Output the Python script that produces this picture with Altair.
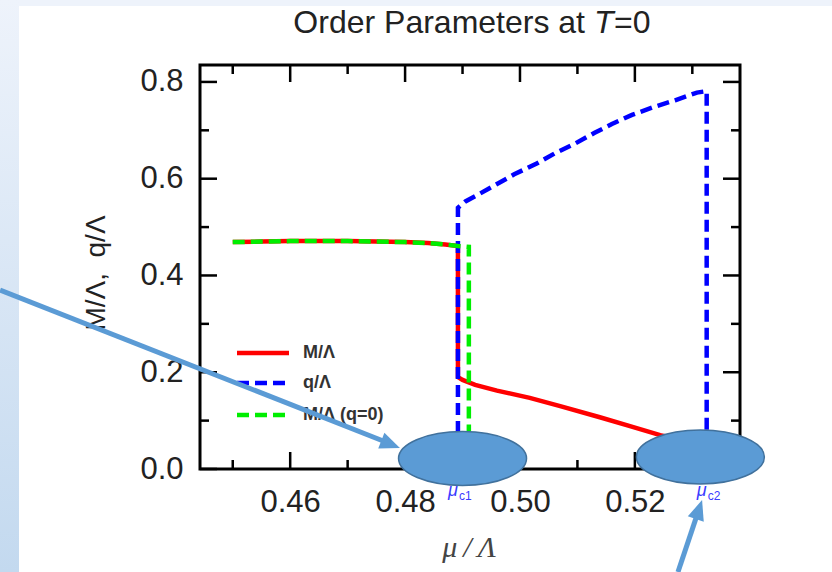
import altair as alt
import pandas as pd

# ---------------- data ----------------
# M/Lambda (solid red)
m_x = [0.450, 0.455, 0.460, 0.465, 0.470, 0.475, 0.480, 0.484, 0.487, 0.4892,
       0.4892, 0.4900, 0.4922, 0.4960, 0.5017, 0.5070, 0.5139, 0.5190, 0.5244, 0.5290, 0.5325]
m_y = [0.469, 0.470, 0.471, 0.471, 0.471, 0.470, 0.469, 0.467, 0.464, 0.461,
       0.190, 0.184, 0.174, 0.162, 0.147, 0.130, 0.107, 0.089, 0.070, 0.058, 0.050]

# q/Lambda (dashed blue)
q_x = [0.4892, 0.4892, 0.4905, 0.4930, 0.4960, 0.4990, 0.5030, 0.5060, 0.5095,
       0.5130, 0.5160, 0.5195, 0.5235, 0.5270, 0.5308, 0.5325, 0.5325]
q_y = [0.0, 0.540, 0.553, 0.569, 0.589, 0.609, 0.632, 0.652, 0.672,
       0.695, 0.713, 0.732, 0.749, 0.762, 0.778, 0.781, 0.0]

# M/Lambda with q=0 (dashed green)
g_x = [0.450, 0.455, 0.460, 0.465, 0.470, 0.475, 0.480, 0.484, 0.487, 0.4892, 0.4911, 0.4911]
g_y = [0.469, 0.470, 0.471, 0.471, 0.471, 0.470, 0.469, 0.467, 0.464, 0.461, 0.459, 0.0]

x_labels = [0.46, 0.48, 0.50, 0.52]
x_minor = [0.45, 0.47, 0.49, 0.51, 0.53]
y_labels = [0.0, 0.2, 0.4, 0.6, 0.8]
y_minor = [0.1, 0.3, 0.5, 0.7]

legend_labels = ["M/Λ", "q/Λ", "M/Λ (q=0)"]
legend_colors = ["#ff0000", "#0000ff", "#00ee00"]

mu_c = [0.4892, 0.5325]
mu_sub = ["c1", "c2"]

# annotation overlay (slide callouts), in data coordinates
ell_x = [0.4900, 0.5314]
ell_y = [0.0217, 0.0248]
arrow_x = [0.4095, 0.5275]
arrow_y = [0.370, -0.213]
arrow_x2 = [0.4762, 0.5307]
arrow_y2 = [0.0579, -0.0994]
tip_x = [0.4791, 0.5317]
tip_y = [0.0434, -0.0641]
tip_angle = [21.6, 288.4]

# ---------------- layout ----------------
W, H = 540, 404
X_DOM = [0.4443, 0.5383]
Y_DOM = [0.0, 0.835]
FONT = "Liberation Sans"

X = alt.X("x:Q", scale=alt.Scale(domain=X_DOM, nice=False, zero=False),
          axis=alt.Axis(values=x_labels, format=".2f", title=None, ticks=False, domain=False,
                        grid=False, labelFontSize=31, labelPadding=18, labelColor="#222",
                        labelFont=FONT))
Y = alt.Y("y:Q", scale=alt.Scale(domain=Y_DOM, nice=False, zero=False),
          axis=alt.Axis(values=y_labels, format=".1f", title=None, ticks=False, domain=False,
                        grid=False, labelFontSize=31, labelPadding=17, labelColor="#222",
                        labelFont=FONT))


def series(xs, ys):
    return pd.DataFrame({"x": xs, "y": ys, "i": list(range(len(xs)))})


def line(xs, ys, color, dash=None):
    kw = dict(color=color, strokeWidth=4.5, clip=False)
    if dash:
        kw["strokeDash"] = dash
    return alt.Chart(series(xs, ys)).mark_line(**kw).encode(x=X, y=Y, order="i:Q")


layers = []

# slide background strips
grad = alt.Gradient(gradient="linear", x1=0, x2=0, y1=0, y2=1,
                    stops=[alt.GradientStop(color="#eef3fb", offset=0),
                           alt.GradientStop(color="#c3d9ef", offset=1)])
one = pd.DataFrame({"a": [0]})
layers.append(alt.Chart(one).mark_rect(fill=grad, strokeWidth=0).encode(
    x=alt.value(-200), x2=alt.value(-181), y=alt.value(-65), y2=alt.value(H + 103)))
layers.append(alt.Chart(one).mark_rect(color="#eef3fb", strokeWidth=0).encode(
    x=alt.value(-181), x2=alt.value(W + 92), y=alt.value(-65), y2=alt.value(-59)))

# frame
layers.append(alt.Chart(one).mark_rect(fill=None, stroke="black", strokeWidth=3).encode(
    x=alt.value(0), x2=alt.value(W), y=alt.value(0), y2=alt.value(H)))


# inward ticks on all four sides
def xticks(vals, L):
    d = pd.DataFrame({"x": vals})
    return [alt.Chart(d).mark_rule(color="black", strokeWidth=2.5).encode(
                x=X, y=alt.value(H), y2=alt.value(H - L)),
            alt.Chart(d).mark_rule(color="black", strokeWidth=2.5).encode(
                x=X, y=alt.value(0), y2=alt.value(L))]


def yticks(vals, L):
    d = pd.DataFrame({"y": vals})
    return [alt.Chart(d).mark_rule(color="black", strokeWidth=2.5).encode(
                y=Y, x=alt.value(0), x2=alt.value(L)),
            alt.Chart(d).mark_rule(color="black", strokeWidth=2.5).encode(
                y=Y, x=alt.value(W), x2=alt.value(W - L))]


layers += xticks(x_labels, 17) + xticks(x_minor, 9) + yticks(y_labels, 17) + yticks(y_minor, 9)

# data lines
layers.append(line(m_x, m_y, legend_colors[0]))
layers.append(line(q_x, q_y, legend_colors[1], [12, 6]))
layers.append(line(g_x, g_y, legend_colors[2], [12, 6]))

# legend (manual, inside plot)
leg_y = [288, 318, 350]
leg_dash = [None, [12, 6], [12, 6]]
for lab, col, ly, dsh in zip(legend_labels, legend_colors, leg_y, leg_dash):
    kw = dict(color=col, strokeWidth=4.5)
    if dsh:
        kw["strokeDash"] = dsh
    layers.append(alt.Chart(one).mark_rule(**kw).encode(
        x=alt.value(37), x2=alt.value(89), y=alt.value(ly)))
    layers.append(alt.Chart(pd.DataFrame({"t": [lab]})).mark_text(
        align="left", baseline="middle", fontSize=18, fontWeight="bold", color="#333",
        font=FONT).encode(x=alt.value(103), y=alt.value(ly), text="t:N"))

# mu_c labels
mu_df = pd.DataFrame({"x": mu_c, "s": mu_sub, "m": ["μ", "μ"]})
layers.append(alt.Chart(mu_df).mark_text(
    align="center", baseline="middle", fontSize=18, fontStyle="italic", color="#3a3aff",
    font=FONT, dx=-5, clip=False).encode(x=X, y=alt.value(426), text="m:N"))
layers.append(alt.Chart(mu_df).mark_text(
    align="left", baseline="middle", fontSize=12, color="#3a3aff", font=FONT, dx=1,
    clip=False).encode(x=X, y=alt.value(431), text="s:N"))

# titles
layers.append(alt.Chart(pd.DataFrame({"t": ["Order Parameters at"]})).mark_text(
    align="right", baseline="alphabetic", fontSize=32, color="#222", font=FONT).encode(
    x=alt.value(385), y=alt.value(-32), text="t:N"))
layers.append(alt.Chart(pd.DataFrame({"t": ["T"]})).mark_text(
    align="left", baseline="alphabetic", fontSize=32, fontStyle="italic", color="#222",
    font=FONT).encode(x=alt.value(394), y=alt.value(-32), text="t:N"))
layers.append(alt.Chart(pd.DataFrame({"t": ["=0"]})).mark_text(
    align="left", baseline="alphabetic", fontSize=32, color="#222", font=FONT).encode(
    x=alt.value(414), y=alt.value(-32), text="t:N"))
layers.append(alt.Chart(pd.DataFrame({"t": ["M/Λ,\u00a0 q/Λ"]})).mark_text(
    align="center", baseline="middle", fontSize=28, angle=270, color="#222", font=FONT).encode(
    x=alt.value(-103), y=alt.value(208), text="t:N"))
layers.append(alt.Chart(pd.DataFrame({"t": ["μ\u2009/\u2009Λ"]})).mark_text(
    align="center", baseline="middle", fontSize=30, fontStyle="italic", color="#444",
    font="Liberation Serif").encode(x=alt.value(269), y=alt.value(483), text="t:N"))

# callout ellipses and arrows
ELLIPSE = ("M -1 0 C -1 -0.232 -0.552 -0.42 0 -0.42 C 0.552 -0.42 1 -0.232 1 0 "
           "C 1 0.232 0.552 0.42 0 0.42 C -0.552 0.42 -1 0.232 -1 0 Z")
HEAD = "M 0 0 L -1 -0.42 L -1 0.42 Z"
layers.append(alt.Chart(pd.DataFrame({"x": ell_x, "y": ell_y})).mark_point(
    shape=ELLIPSE, size=16384, filled=True, fill="#5b9bd5", fillOpacity=1,
    stroke="#41719c", strokeWidth=1.5, opacity=1, clip=False).encode(x=X, y=Y))
arr = pd.DataFrame({"x": arrow_x, "y": arrow_y, "x2": arrow_x2, "y2": arrow_y2})
layers.append(alt.Chart(arr).mark_rule(color="#5b9bd5", strokeWidth=5, clip=False).encode(
    x=X, y=Y, x2="x2:Q", y2="y2:Q"))
for tx, ty, ta in zip(tip_x, tip_y, tip_angle):
    layers.append(alt.Chart(pd.DataFrame({"x": [tx], "y": [ty]})).mark_point(
        shape=HEAD, size=1600, filled=True, color="#5b9bd5", opacity=1, angle=ta,
        clip=False).encode(x=X, y=Y))

chart = alt.layer(*layers).properties(
    width=W, height=H,
    autosize=alt.AutoSizeParams(type="none"),
    padding={"left": 200, "top": 65, "right": 92, "bottom": 103},
    background="white",
).configure(font=FONT).configure_view(stroke=None)

chart.save("out.html", embed_options={"renderer": "svg", "actions": False})
